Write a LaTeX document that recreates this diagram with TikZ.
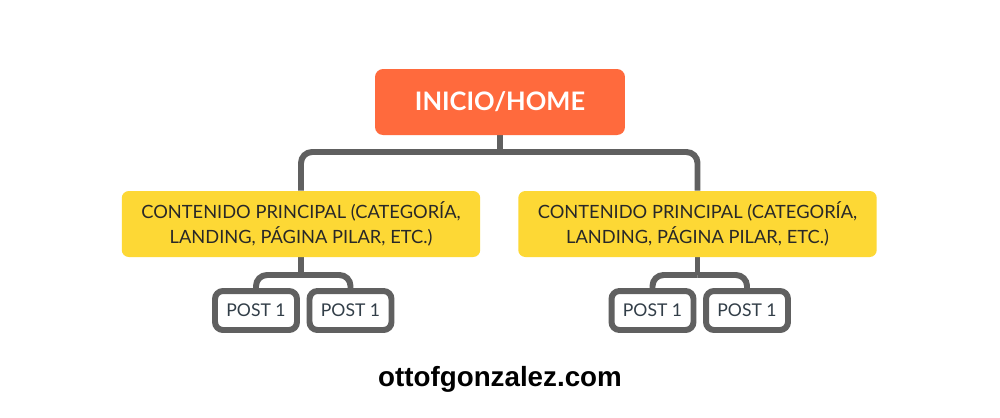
\documentclass[tikz,border=0pt]{standalone}
\usepackage{fontspec}
\usetikzlibrary{backgrounds}
\setmainfont{Lato}
\newfontfamily\footfont{Liberation Sans}
\definecolor{homeor}{RGB}{255,106,61}
\definecolor{yel}{RGB}{253,216,53}
\definecolor{lgray}{RGB}{96,96,96}
\definecolor{txtd}{RGB}{40,40,40}
\definecolor{posttxt}{RGB}{50,62,72}
\begin{document}
\begin{tikzpicture}[x=0.02cm,y=-0.02cm,
  conn/.style={draw=lgray,line width=3.4pt,rounded corners=0.22cm},
  homebox/.style={fill=homeor,rounded corners=0.16cm,minimum width=5cm,minimum height=1.32cm,inner sep=0pt,text=white,font=\bfseries\fontsize{14.5}{16}\selectfont},
  catbox/.style={fill=yel,rounded corners=0.14cm,minimum width=7.17cm,minimum height=1.32cm,inner sep=0pt,text=txtd,align=center,font=\fontsize{10.4}{14.2}\selectfont},
  postbox/.style={draw=lgray,line width=3.4pt,fill=white,rounded corners=0.16cm,minimum width=1.64cm,minimum height=0.78cm,inner sep=0pt,text=posttxt,font=\fontsize{10}{12}\selectfont},
  foot/.style={font=\footfont\bfseries\fontsize{15.8}{18}\selectfont,text=black}]
\node[homebox] (home) at (500,102) {INICIO/HOME};
\node[catbox] (c1) at (301,224) {CONTENIDO PRINCIPAL (CATEGORÍA,\\LANDING, PÁGINA PILAR, ETC.)};
\node[catbox] (c2) at (697.5,224) {CONTENIDO PRINCIPAL (CATEGORÍA,\\LANDING, PÁGINA PILAR, ETC.)};
\node[postbox] (p1) at (256,310.5) {POST 1};
\node[postbox] (p2) at (350.5,310.5) {POST 1};
\node[postbox] (p3) at (652.5,310.5) {POST 1};
\node[postbox] (p4) at (747,310.5) {POST 1};
\node[foot] (url) at (500,379) {ottofgonzalez.com};
\coordinate (hubT) at (500,152);
\coordinate (hubL) at (301,275);
\coordinate (hubR) at (697.5,275);
\begin{scope}[on background layer]
\fill[white] (0,0) rectangle (1000,417);
\draw[conn] (home.south) -- (hubT);
\draw[conn] (hubT) -| (c1.north);
\draw[conn] (hubT) -| (c2.north);
\draw[conn] (c1.south) -- (hubL);
\draw[conn] (hubL) -| (p1.north);
\draw[conn] (hubL) -| (p2.north);
\draw[conn] (c2.south) -- (hubR);
\draw[conn] (hubR) -| (p3.north);
\draw[conn] (hubR) -| (p4.north);
\end{scope}
\useasboundingbox (0,0) rectangle (1000,417);
\end{tikzpicture}
\end{document}
